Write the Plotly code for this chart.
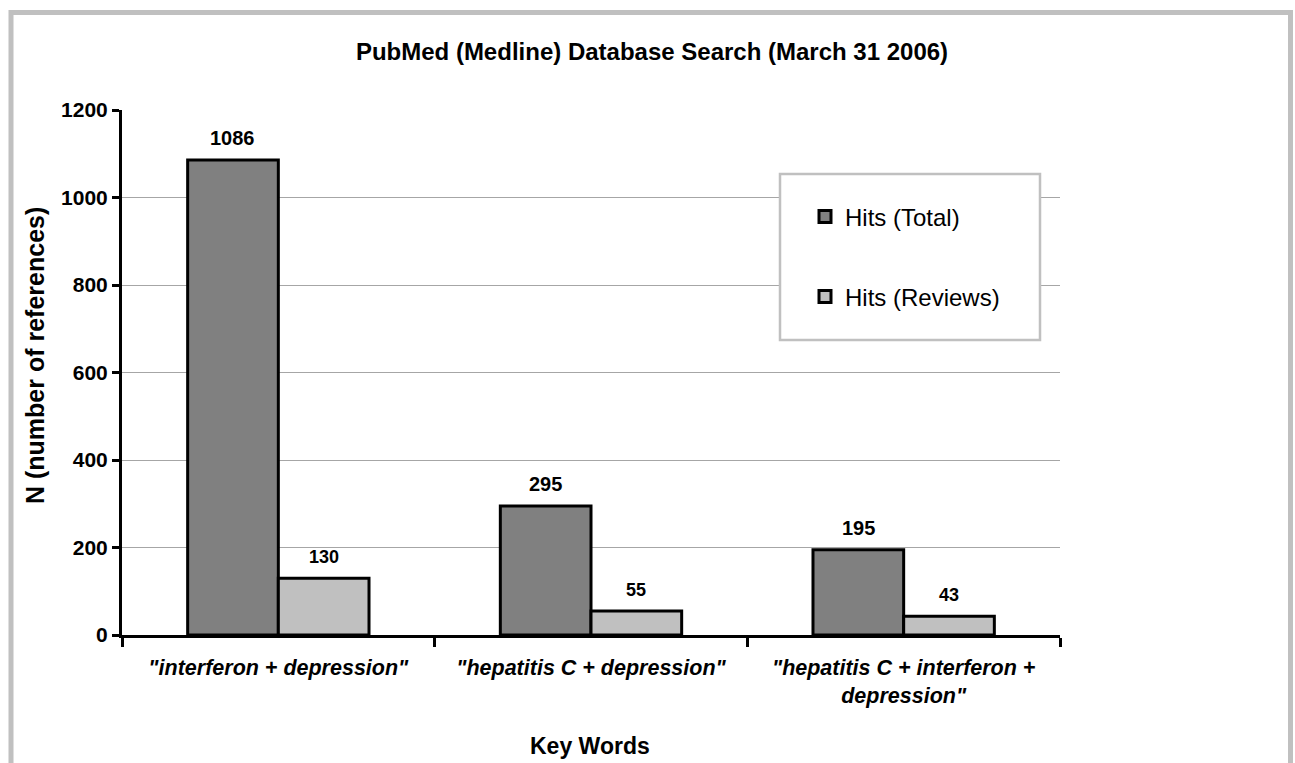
import plotly.graph_objects as go

categories = ['"interferon + depression"', '"hepatitis C + depression"',
              '"hepatitis C + interferon +<br>depression"']
hits_total = [1086, 295, 195]
hits_reviews = [130, 55, 43]
y_ticks = [0, 200, 400, 600, 800, 1000, 1200]

FONT = "Liberation Sans, Arial, sans-serif"
W, H = 1295, 763
L, R, T, B = 122, 235, 110, 128
PW, PH = W - L - R, H - T - B
BARGAP = 0.42

def px(x):
    return (x - L) / PW

def py(y):
    return (H - B - y) / PH

fig = go.Figure()
fig.add_trace(go.Bar(
    x=categories, y=hits_total, name="Hits (Total)",
    marker=dict(color="#808080", line=dict(color="black", width=3)),
    cliponaxis=False, legend="legend",
))
fig.add_trace(go.Bar(
    x=categories, y=hits_reviews, name="Hits (Reviews)",
    marker=dict(color="#c0c0c0", line=dict(color="black", width=3)),
    cliponaxis=False, legend="legend2",
))

# value labels above bars (pixel shift = half a bar width)
bar_w = PW / len(categories) * (1 - BARGAP) / 2
for series, shift, size in ((hits_total, -bar_w / 2, 20), (hits_reviews, bar_w / 2, 18)):
    for cat, v in zip(categories, series):
        fig.add_annotation(x=cat, y=v, xref="x", yref="y", text=str(v),
                           showarrow=False, xshift=shift, yshift=9,
                           xanchor="center", yanchor="bottom",
                           font=dict(family=FONT, size=size, color="black",
                                     weight="bold"))

legend_common = dict(xanchor="left", yanchor="middle",
                     bgcolor="rgba(0,0,0,0)", borderwidth=0,
                     font=dict(family=FONT, size=24, color="black"),
                     itemwidth=30)

fig.update_layout(
    width=W, height=H,
    margin=dict(l=L, r=R, t=T, b=B, autoexpand=False),
    paper_bgcolor="white", plot_bgcolor="white",
    barmode="group", bargap=BARGAP, bargroupgap=0,
    font=dict(family=FONT, color="black"),
    title=dict(text="PubMed (Medline) Database Search (March 31 2006)",
               x=652 / W, xref="container", y=1 - 52 / H, yref="container",
               xanchor="center", yanchor="middle",
               font=dict(family=FONT, size=24, color="black", weight="bold")),
    showlegend=True,
    legend=dict(x=px(805), y=py(217), **legend_common),
    legend2=dict(x=px(805), y=py(297), **legend_common),
    xaxis=dict(showline=True, linecolor="black", linewidth=3,
               ticks="outside", ticklen=9, tickwidth=3, tickcolor="black",
               tickson="boundaries", ticklabelstandoff=11,
               tickfont=dict(family=FONT, size=21.5, color="black",
                             weight="bold", style="italic"),
               showgrid=False, zeroline=False),
    yaxis=dict(range=[0, 1200], tickvals=y_ticks,
               showline=True, linecolor="black", linewidth=3,
               ticks="outside", ticklen=7, tickwidth=3, tickcolor="black",
               tickfont=dict(family=FONT, size=21, color="black", weight="bold"),
               showgrid=True, gridcolor="#a6a6a6", gridwidth=1,
               zeroline=False),
)

# outer frame
fig.add_shape(type="rect", xref="paper", yref="paper",
              x0=px(11), x1=px(1290.5), y0=py(H + 20), y1=py(12.5),
              line=dict(color="#c0c0c0", width=5), layer="below")
# legend box
fig.add_shape(type="rect", xref="paper", yref="paper",
              x0=px(780), x1=px(1040), y0=py(340), y1=py(174),
              line=dict(color="#c0c0c0", width=2.5), fillcolor="white",
              layer="above")

fig.add_annotation(text="N (number of references)", xref="paper", yref="paper",
                   x=px(35), y=py(356), textangle=-90, showarrow=False,
                   xanchor="center", yanchor="middle",
                   font=dict(family=FONT, size=25, color="black", weight="bold"))
fig.add_annotation(text="Key Words", xref="paper", yref="paper",
                   x=px(590), y=py(746), showarrow=False,
                   xanchor="center", yanchor="middle",
                   font=dict(family=FONT, size=23, color="black", weight="bold"))

fig.write_html("out.html")
